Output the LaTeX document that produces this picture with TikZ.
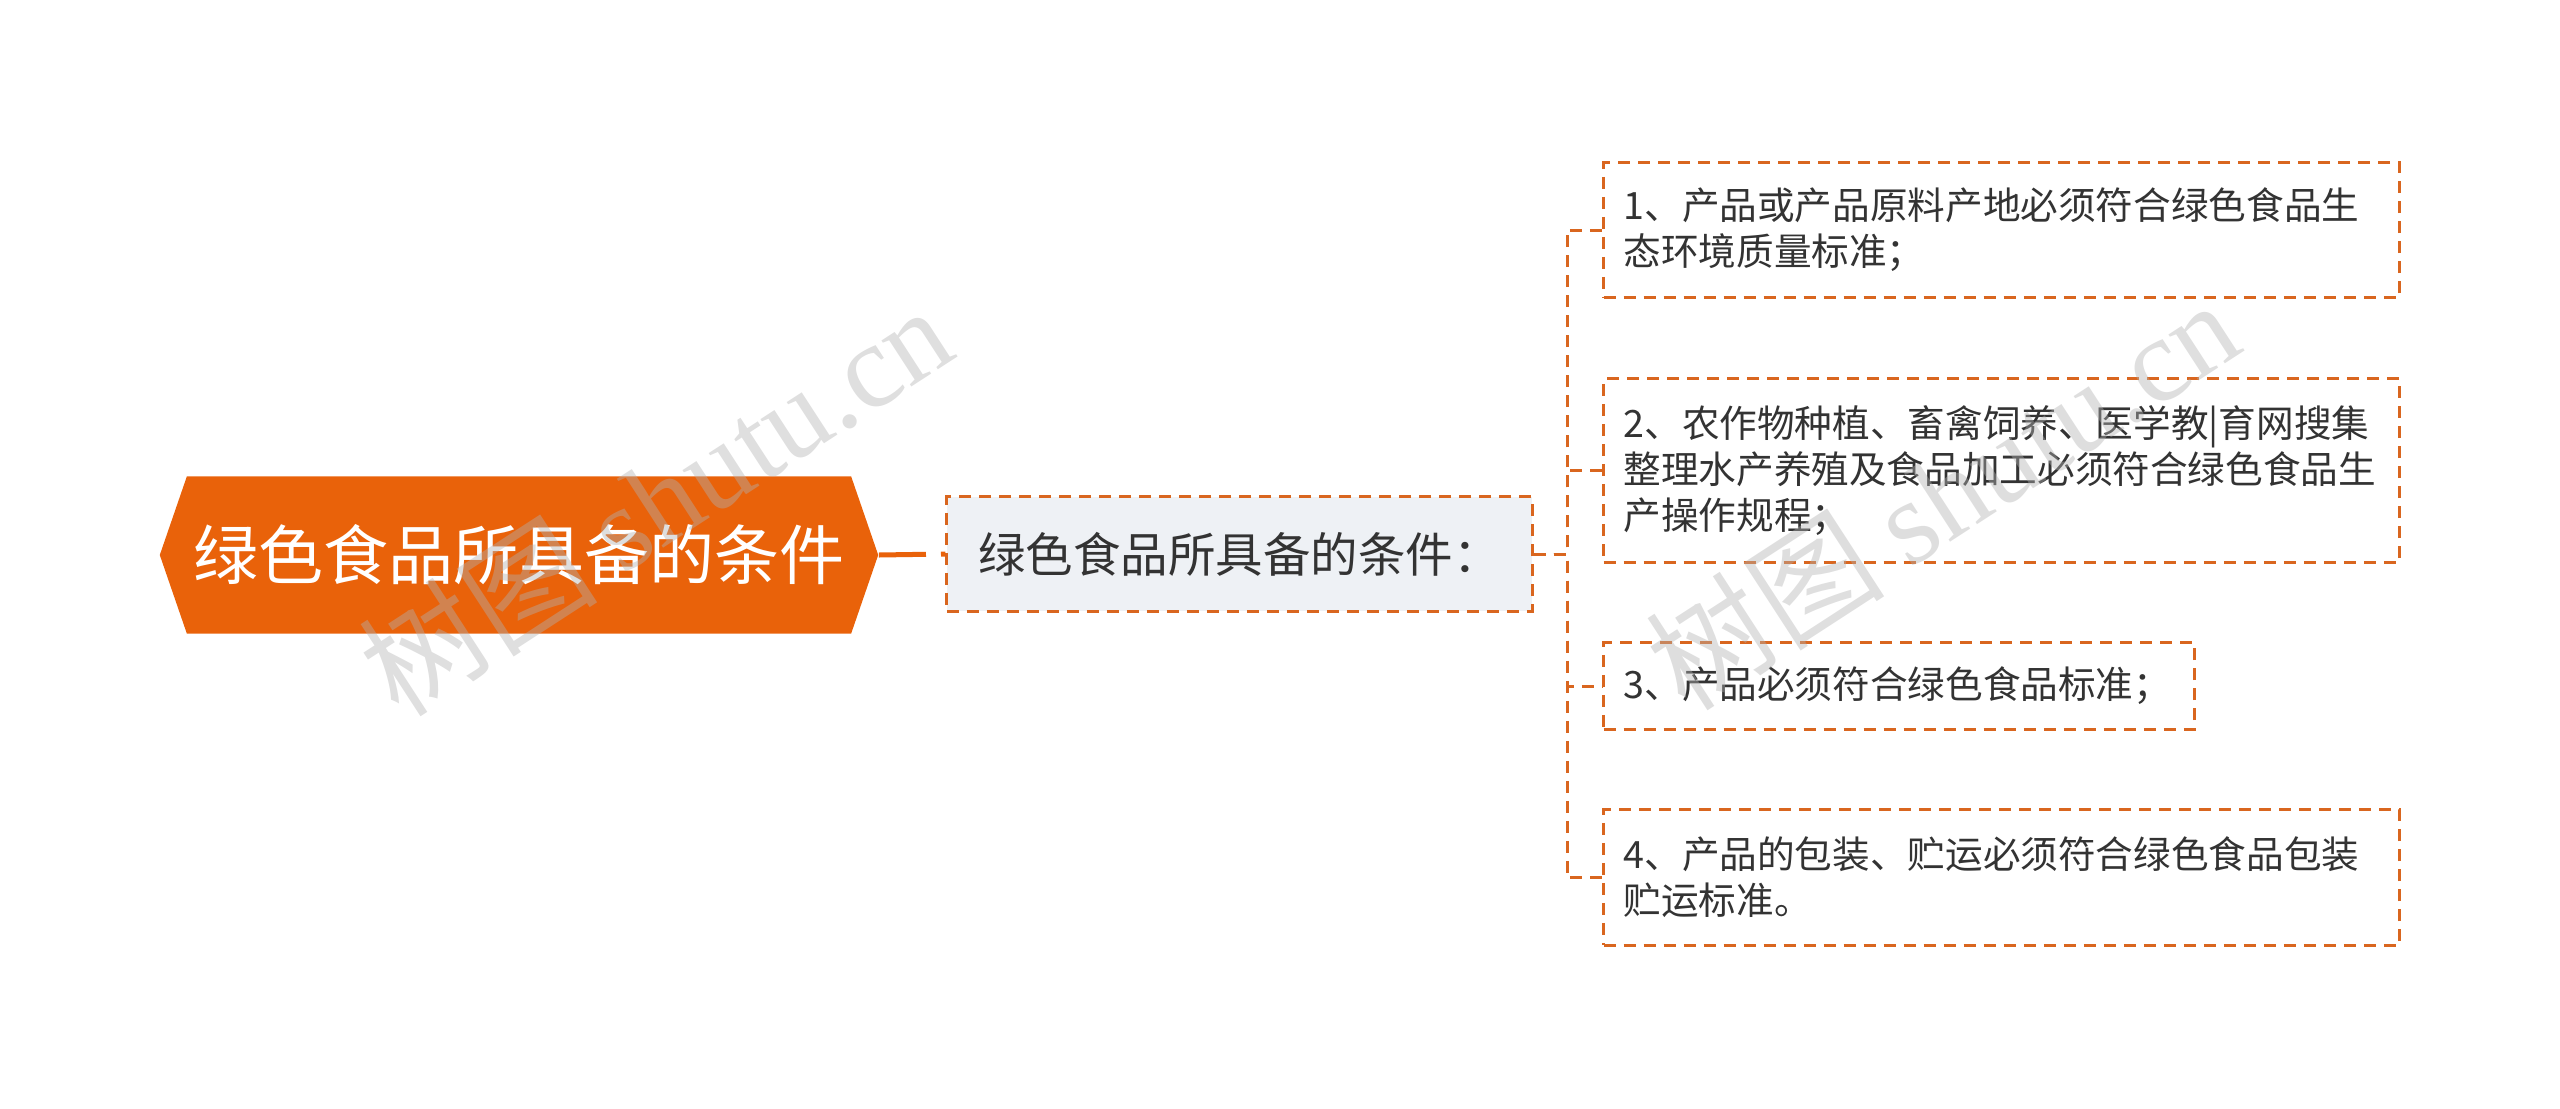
\documentclass[tikz,border=0pt]{standalone}
\usepackage{fontspec}
\setmainfont{Noto Sans CJK SC}
\newfontfamily\wmfont{Liberation Serif}
\usetikzlibrary{shapes.symbols}
\definecolor{rootorange}{HTML}{E9620A}
\definecolor{lineorange}{HTML}{D9661F}
\definecolor{subfill}{HTML}{EEF1F5}
\definecolor{textgray}{HTML}{333333}

\begin{document}
\begin{tikzpicture}[x=0.01cm,y=-0.01cm,
  rootbox/.style={signal, signal to=west and east, signal pointer angle=142,
    fill=rootorange, text=white, minimum width=7.18cm, minimum height=1.57cm,
    inner sep=0pt, font=\fontsize{18.5}{22}\selectfont},
  subbox/.style={draw=lineorange, fill=subfill, line width=0.03cm,
    dash pattern=on 0.12cm off 0.08cm, minimum width=5.85cm, minimum height=1.14cm,
    text=textgray, font=\fontsize{13.5}{16}\selectfont},
  leafbox/.style={draw=lineorange, fill=white, line width=0.03cm,
    dash pattern=on 0.12cm off 0.08cm, anchor=west, align=left,
    inner xsep=0.2cm, inner ysep=0pt, text width=7.56cm, text=textgray,
    font=\fontsize{10.7}{13.1}\selectfont},
  link/.style={draw=lineorange, line width=0.03cm, dash pattern=on 0.12cm off 0.08cm},
  wmark/.style={text=gray!60, opacity=0.42, rotate=33,
    font=\fontsize{34}{38}\selectfont}]

\useasboundingbox (0,0) rectangle (2560,1109);

\path (519,555) node[rootbox] (root) {绿色食品所具备的条件}
      (1239.5,554) node[subbox] (sub) {绿色食品所具备的条件：}
      (1602,230) node[leafbox, minimum height=1.34cm] (c1)
        {1、产品或产品原料产地必须符合绿色食品生\\态环境质量标准；}
      (1602,470.5) node[leafbox, minimum height=1.83cm] (c2)
        {2、农作物种植、畜禽饲养、医学教|育网搜集\\整理水产养殖及食品加工必须符合绿色食品生\\产操作规程；}
      (1602,686) node[leafbox, text width=5.51cm, minimum height=0.86cm] (c3)
        {3、产品必须符合绿色食品标准；}
      (1602,877.5) node[leafbox, minimum height=1.35cm] (c4)
        {4、产品的包装、贮运必须符合绿色食品包装\\贮运标准。}
      (1567,0) coordinate (trunk)
      ;

\draw [draw=rootorange, line width=0.05cm, dash pattern=on 0.47cm off 0.15cm on 0.2cm]
  (node cs:name=root, anchor=east) -- (node cs:name=sub, anchor=west);
\foreach \leaf in {c1,c2,c3,c4}
  \draw [link] (sub.east) -- (trunk |- sub.east) |- (\leaf.west);

\path (655,500) node[wmark] (wm1) {树图 {\wmfont shutu.cn}}
      (1942,494) node[wmark] (wm2) {树图 {\wmfont shutu.cn}};
\end{tikzpicture}
\end{document}
